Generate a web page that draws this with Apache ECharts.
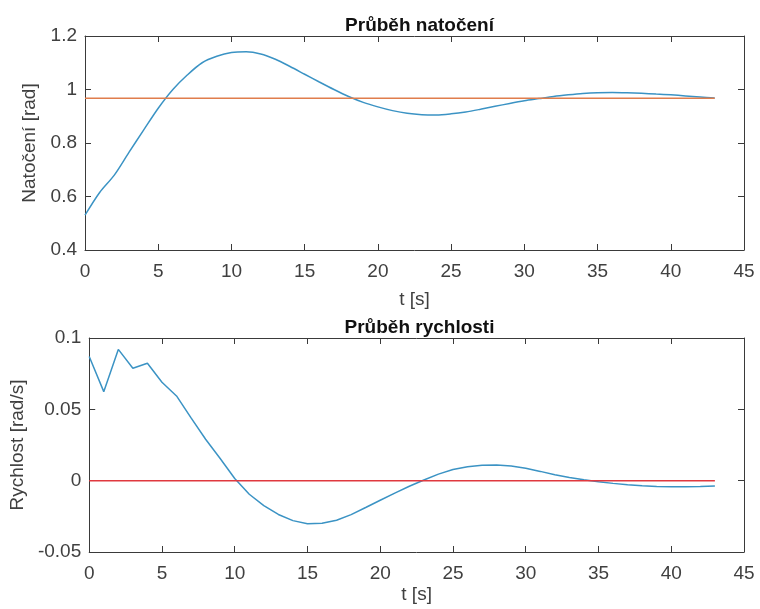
<!DOCTYPE html>
<html>
<head>
<meta charset="utf-8">
<script src="https://cdn.jsdelivr.net/npm/echarts@6/dist/echarts.min.js"></script>
<style>html,body{margin:0;padding:0;background:#fff}#c{width:760px;height:609px}</style>
</head>
<body>
<div id="c"></div>
<script>
// time samples [s]
const time = [0,1,2,3,4,5,6,7,8,9,10,11,12,13,14,15,16,17,18,19,20,21,22,23,24,25,26,27,28,29,30,31,32,33,34,35,36,37,38,39,40,41,42,43];
// angle [rad]
const angle = [0.53,0.615,0.68,0.765,0.848,0.93,1.0,1.055,1.1,1.124,1.138,1.141,1.133,1.113,1.086,1.057,1.028,1.0,0.974,0.952,0.935,0.921,0.911,0.906,0.905,0.909,0.916,0.926,0.937,0.948,0.958,0.966,0.974,0.98,0.985,0.988,0.989,0.988,0.986,0.983,0.98,0.976,0.972,0.968];
// speed [rad/s]
const speed = [0.087,0.0624,0.092,0.0788,0.0823,0.0690,0.0594,0.0440,0.0290,0.0155,0.0015,-0.0095,-0.0175,-0.0237,-0.0280,-0.0302,-0.0298,-0.0277,-0.0238,-0.0188,-0.0137,-0.0087,-0.0039,0.0005,0.0046,0.0078,0.0098,0.0108,0.0110,0.0103,0.0087,0.0065,0.0042,0.0022,0.0006,-0.0007,-0.0019,-0.0029,-0.0036,-0.0041,-0.0043,-0.0043,-0.0041,-0.0037];
// reference levels
const refAngle = 0.967;
const refSpeed = 0;
const xTicks = {min: 0, max: 45, interval: 5};
const yTicks1 = {min: 0.4, max: 1.2, interval: 0.2};
const yTicks2 = {min: -0.05, max: 0.1, interval: 0.05};
const titles = ['Průběh natočení', 'Průběh rychlosti'];
const yNames = ['Natočení [rad]', 'Rychlost [rad/s]'];
const xName = 't [s]';

const FONT = 'Liberation Sans, Arial, Helvetica, sans-serif';
const AX = '#3a3a3a';
const LBL = '#404040';
const fmt = v => String(+(+v).toFixed(3));

const chart = echarts.init(document.getElementById('c'), null, {renderer: 'canvas'});

function xAxes(gi, gap) {
  return [
    {type: 'value', gridIndex: gi, ...xTicks, position: 'bottom',
     name: xName, nameLocation: 'middle', nameGap: gap,
     nameTextStyle: {fontFamily: FONT, fontSize: 19, color: LBL},
     axisLine: {show: true, onZero: false, lineStyle: {color: AX, width: 1}},
     axisTick: {show: true, inside: true, length: 6, lineStyle: {color: AX}},
     axisLabel: {fontFamily: FONT, fontSize: 19, color: LBL, margin: 12, formatter: fmt},
     splitLine: {show: false}},
    {type: 'value', gridIndex: gi, ...xTicks, position: 'top',
     axisLine: {show: true, onZero: false, lineStyle: {color: AX, width: 1}},
     axisTick: {show: true, inside: true, length: 6, lineStyle: {color: AX}},
     axisLabel: {show: false}, splitLine: {show: false}}
  ];
}
function yAxes(gi, ticks, name, gap) {
  return [
    {type: 'value', gridIndex: gi, ...ticks, position: 'left',
     name: name, nameLocation: 'middle', nameGap: gap, nameRotate: 90,
     nameTextStyle: {fontFamily: FONT, fontSize: 19, color: LBL},
     axisLine: {show: true, onZero: false, lineStyle: {color: AX, width: 1}},
     axisTick: {show: true, inside: true, length: 6, lineStyle: {color: AX}},
     axisLabel: {fontFamily: FONT, fontSize: 19, color: LBL, margin: 8, formatter: fmt},
     splitLine: {show: false}},
    {type: 'value', gridIndex: gi, ...ticks, position: 'right',
     axisLine: {show: true, onZero: false, lineStyle: {color: AX, width: 1}},
     axisTick: {show: true, inside: true, length: 6, lineStyle: {color: AX}},
     axisLabel: {show: false}, splitLine: {show: false}}
  ];
}

const lastT = time[time.length - 1];
const option = {
  backgroundColor: '#ffffff',
  animation: false,
  title: [
    {text: titles[0], left: 414.5, top: 11, textAlign: 'center',
     textStyle: {fontFamily: FONT, fontSize: 19, fontWeight: 'bold', color: '#111'}},
    {text: titles[1], left: 414.5, top: 313, textAlign: 'center',
     textStyle: {fontFamily: FONT, fontSize: 19, fontWeight: 'bold', color: '#111'}}
  ],
  grid: [
    {left: 85, top: 36, width: 659, height: 214},
    {left: 85, top: 338, width: 659, height: 214}
  ],
  xAxis: [...xAxes(0, 40), ...xAxes(1, 33)],
  yAxis: [...yAxes(0, yTicks1, yNames[0], 37), ...yAxes(1, yTicks2, yNames[1], 53)],
  series: [
    {type: 'line', xAxisIndex: 0, yAxisIndex: 0, data: time.map((t, i) => [t, angle[i]]),
     showSymbol: false, smooth: 0.3, lineStyle: {color: '#3b93c4', width: 1.5}, z: 2},
    {type: 'line', xAxisIndex: 0, yAxisIndex: 0, data: [[time[0], refAngle], [lastT, refAngle]],
     showSymbol: false, lineStyle: {color: '#e07d4c', width: 1.5}, z: 3},
    {type: 'line', xAxisIndex: 2, yAxisIndex: 2, data: time.map((t, i) => [t, speed[i]]),
     showSymbol: false, lineStyle: {color: '#3b93c4', width: 1.5}, z: 2},
    {type: 'line', xAxisIndex: 2, yAxisIndex: 2, data: [[time[0], refSpeed], [lastT, refSpeed]],
     showSymbol: false, lineStyle: {color: '#e0393f', width: 1.5}, z: 3}
  ]
};
chart.setOption(option);
</script>
</body>
</html>
